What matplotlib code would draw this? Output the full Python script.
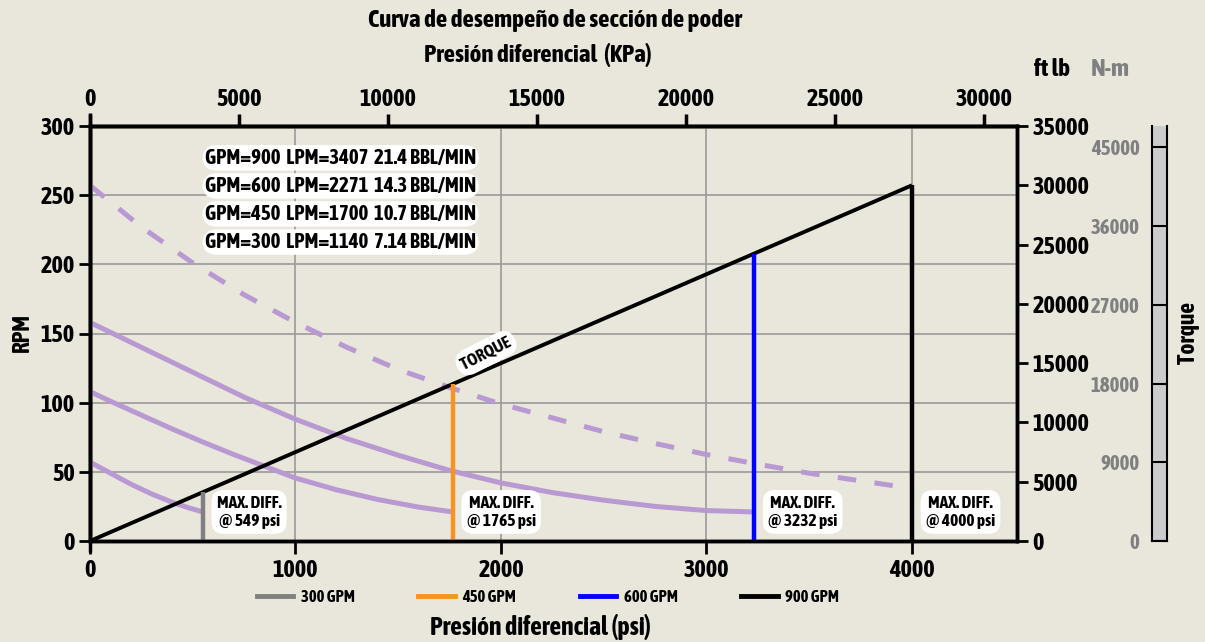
import numpy as np
import matplotlib
matplotlib.use("Agg")
import matplotlib.pyplot as plt
import matplotlib.font_manager as fm
from matplotlib.lines import Line2D

# pick a narrow face that has a bold weight, if one is installed
FONT = "DejaVu Sans"
narrow_bold = [f.name for f in fm.fontManager.ttflist
               if ("Narrow" in f.name or "Condensed" in f.name)
               and (f.weight in ("bold", 700) or str(f.weight) == "700")]
if narrow_bold:
    FONT = sorted(narrow_bold)[0]
plt.rcParams["font.family"] = [FONT, "DejaVu Sans"]
plt.rcParams["font.weight"] = "bold"

# ---- data ----
psi_900 = [0, 250, 500, 750, 1000, 1250, 1500, 1750, 2000, 2250, 2500, 2750, 3000, 3250, 3500, 3750, 4000]
rpm_900 = [257, 227, 201, 178, 158, 140, 124, 111, 99, 89, 79, 70.5, 62.5, 55.5, 49, 43.5, 38]

psi_600 = [0, 250, 500, 750, 1000, 1250, 1500, 1750, 2000, 2250, 2500, 2750, 3000, 3232]
rpm_600 = [158, 140, 122, 104, 88, 74, 62, 51, 42, 35, 29.5, 25, 22, 21]

psi_450 = [0, 100, 250, 400, 550, 700, 850, 1000, 1200, 1400, 1600, 1765]
rpm_450 = [108, 101, 91, 81, 71.5, 62.5, 54, 45.5, 37, 30, 24.5, 21]

psi_300 = [0, 100, 200, 300, 400, 480, 549]
rpm_300 = [57, 49, 41, 34, 28, 24, 21]

torque_psi = [0, 4000]
torque_ftlb = [0, 30000]

max_psi = [549, 1765, 3232, 4000]
gpm_labels = ["300 GPM", "450 GPM", "600 GPM", "900 GPM"]
gpm_colors = ["#808080", "#f7941d", "#0000ff", "#000000"]

flow_labels = ["GPM=900  LPM=3407  21.4 BBL/MIN",
               "GPM=600  LPM=2271  14.3 BBL/MIN",
               "GPM=450  LPM=1700  10.7 BBL/MIN",
               "GPM=300  LPM=1140  7.14 BBL/MIN"]

psi_ticks = [0, 1000, 2000, 3000, 4000]
kpa_ticks = [0, 5000, 10000, 15000, 20000, 25000, 30000]
rpm_ticks = [0, 50, 100, 150, 200, 250, 300]
ftlb_ticks = [0, 5000, 10000, 15000, 20000, 25000, 30000, 35000]
nm_ticks = [0, 9000, 18000, 27000, 36000, 45000]

KPA = 6.89476
NM = 1.35582
BG = "#e9e6dc"
PURPLE = "#b899d2"
W, H = 1205, 642
TICK_FS = 17.5

fig = plt.figure(figsize=(W / 100, H / 100), dpi=100, facecolor=BG)
ax = fig.add_axes([90 / W, 1 - 541 / H, (1017 - 90) / W, 415 / H])
ax.set_facecolor(BG)
ax.set_xlim(0, 4511)
ax.set_ylim(0, 300)
ax.set_xticks(psi_ticks)
ax.set_yticks(rpm_ticks)
ax.grid(color="#9a9a9a", lw=1.2)
ax.set_axisbelow(True)
for s in ax.spines.values():
    s.set_linewidth(2.5)
ax.tick_params(axis="both", labelsize=TICK_FS, width=2, length=8, direction="out", pad=3)
ax.tick_params(axis="x", length=9, pad=4)
# left spine runs a bit past the box
ax.plot([0, 0], [-0.027, 1.031], transform=ax.transAxes, color="black", lw=2.5,
        clip_on=False, solid_capstyle="butt")

# secondary kPa axis on top
sec = ax.secondary_xaxis("top", functions=(lambda p: np.asarray(p) * KPA, lambda k: np.asarray(k) / KPA))
sec.set_xticks(kpa_ticks)
sec.tick_params(labelsize=TICK_FS, width=2.5, length=9, direction="out", pad=2)
sec.spines["top"].set_linewidth(2.5)

# right ft-lb axis
ax2 = ax.twinx()
ax2.set_ylim(0, 35000)
ax2.set_yticks(ftlb_ticks)
ax2.patch.set_visible(False)
for s in ax2.spines.values():
    s.set_linewidth(2.5)
ax2.tick_params(axis="y", labelsize=TICK_FS, width=2, length=8, pad=3)

# flow curves
ax.plot(psi_300, rpm_300, color=PURPLE, lw=3.6, solid_capstyle="butt")
ax.plot(psi_450, rpm_450, color=PURPLE, lw=3.6, solid_capstyle="butt")
ax.plot(psi_600, rpm_600, color=PURPLE, lw=3.6, solid_capstyle="butt")
ax.plot(psi_900, rpm_900, color=PURPLE, lw=3.6, dashes=(3.7, 3.7), dash_capstyle="butt")

# torque line and max-diff verticals
ax2.plot(torque_psi, torque_ftlb, color="black", lw=2.8, solid_capstyle="butt")
for p, c in zip(max_psi, gpm_colors):
    top = np.interp(p, torque_psi, torque_ftlb)
    ax2.plot([p, p], [0, top], color=c, lw=3.2, solid_capstyle="butt")
    ax.annotate("MAX. DIFF.\n@ %d psi" % p, xy=(p, 21), xytext=(10, 0), textcoords="offset points",
                ha="left", va="center", multialignment="center", fontsize=12.5, linespacing=1.1,
                bbox=dict(boxstyle="round,pad=0.3,rounding_size=0.7", fc="white", ec="none"))

ax2.text(1927, np.interp(1927, torque_psi, torque_ftlb) + 1400, "TORQUE", rotation=27,
         ha="center", va="center", fontsize=12.5, rotation_mode="anchor",
         bbox=dict(boxstyle="round,pad=0.3,rounding_size=0.8", fc="white", ec="none"))

for i, lab in enumerate(flow_labels):
    ax.text(560, 277 - i * 20.3, lab, ha="left", va="center", fontsize=15,
            bbox=dict(boxstyle="round,pad=0.13,rounding_size=0.7", fc="white", ec="none"))

# N-m scale bar
axn = fig.add_axes([1152 / W, 1 - 541 / H, 15 / W, 415 / H])
axn.set_facecolor("#cccccc")
axn.set_ylim(0, 35000 * NM)
axn.set_yticks(nm_ticks)
axn.set_xticks([])
axn.spines["top"].set_visible(False)
for k in ("left", "right", "bottom"):
    axn.spines[k].set_linewidth(1.5)
for t in nm_ticks:
    axn.axhline(t, color="black", lw=1.5)
axn.tick_params(axis="y", length=0, labelsize=15, labelcolor="#808080", pad=9)

# figure texts
fig.text(555 / W, 1 - 20 / H, "Curva de desempeño de sección de poder", ha="center", va="center", fontsize=18)
fig.text(538 / W, 1 - 55 / H, "Presión diferencial  (KPa)", ha="center", va="center", fontsize=18)
fig.text(540 / W, 1 - 627 / H, "Presión diferencial (psi)", ha="center", va="center", fontsize=18.5)
fig.text(22 / W, 1 - 333 / H, "RPM", rotation=90, ha="center", va="center", fontsize=17)
fig.text(1052 / W, 1 - 70 / H, "ft lb", ha="center", va="center", fontsize=18)
fig.text(1110 / W, 1 - 70 / H, "N-m", ha="center", va="center", fontsize=18, color="#808080")
fig.text(1188 / W, 1 - 333 / H, "Torque", rotation=90, ha="center", va="center", fontsize=17)

handles = [Line2D([], [], color=c, lw=3.5) for c in gpm_colors]
fig.legend(handles, gpm_labels, loc="center", bbox_to_anchor=(548 / W, 1 - 597 / H), ncol=4,
           frameon=False, handlelength=2.2, handletextpad=0.45, columnspacing=3.8, fontsize=12)

fig.savefig("out.png", dpi=100, facecolor=BG)
